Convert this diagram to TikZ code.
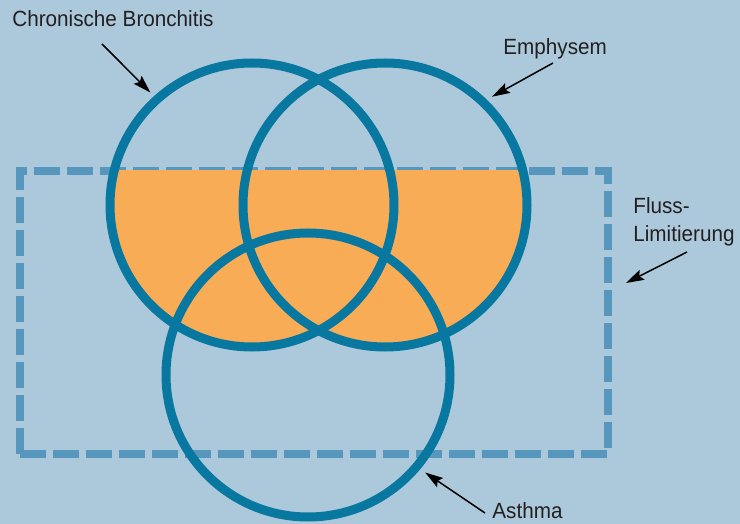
\documentclass[tikz,border=0pt]{standalone}
\usepackage{fontspec}
\setmainfont{Liberation Sans}[FakeStretch=0.94]
\usepackage{xcolor}
\usetikzlibrary{arrows.meta,positioning}

\definecolor{bgblue}{HTML}{ACC9DC}
\definecolor{ringblue}{HTML}{0878A0}
\definecolor{dashblue}{HTML}{5796BD}
\definecolor{fillorange}{HTML}{F9AC56}
\definecolor{textgray}{HTML}{231F20}

\begin{document}
\begin{tikzpicture}[x=1pt, y=-1pt, thick]
\tikzstyle{ring} = [circle, draw=ringblue, line width=9pt, minimum size=284pt, inner sep=0pt]
\tikzstyle{flowbox} = [rectangle, draw=dashblue, line width=8pt, dash pattern=on 26pt off 7pt, minimum width=588pt, minimum height=283pt, outer sep=0pt]
\tikzstyle{tag} = [inner sep=0pt, font=\fontsize{22}{28}\selectfont, text=textgray]
\tikzstyle{arrow} = [line width=1.5pt, -{Stealth[length=18pt, width=11pt, inset=3pt]}]

\fill[bgblue] (0,0) rectangle (740,524);
\useasboundingbox (0,0) rectangle (740,524);

% circle centres
\coordinate (cb) at (252,205);
\coordinate (em) at (385,205);
\coordinate (as) at (308,375);

\node [flowbox] (limit) at (314,312.5) {};

% orange part: bronchitis or emphysem, inside the box
\begin{scope}
\clip (limit.north west) rectangle (limit.south east);
\fill [fillorange] (cb) circle (142pt) (em) circle (142pt);
\end{scope}

\node [ring] (bronchitis) at (cb) {};
\node [ring] (emphysem) at (em) {};
\node [ring] (asthma) at (as) {};

\node [tag, anchor=base west] (cbtext) at (12,27) {Chronische Bronchitis};
\node [tag, anchor=base west] (emtext) at (503,55) {Emphysem};
\node [tag, anchor=north west, align=left] (fltext) at (633,197) {Fluss-\\Limitierung};
\node [tag, anchor=base west] (astext) at (492,518) {Asthma};

\coordinate (cbtail) at (102,44);
\coordinate (emtail) at (553,63);
\coordinate (fltail) at (687,252);
\coordinate (fltip) at (626,283);
\coordinate (astail) at (485,513);

\draw [arrow, shorten >=5pt] (cbtail) -- (bronchitis.132);
\draw [arrow, shorten >=6pt] (emtail) -- (emphysem.46);
\draw [arrow] (fltail) -- (fltip);
\draw [arrow, shorten >=6pt] (astail) -- (asthma.-40);
\end{tikzpicture}
\end{document}
